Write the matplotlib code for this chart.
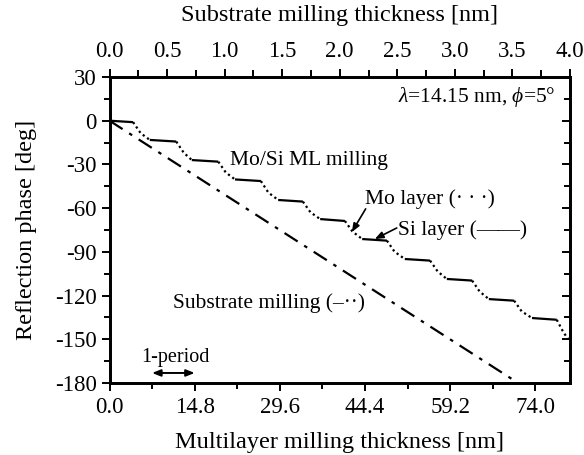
import matplotlib
matplotlib.use("Agg")
import matplotlib.pyplot as plt
from matplotlib.ticker import MultipleLocator, FixedLocator, FormatStrFormatter

plt.rcParams["font.family"] = ["Liberation Serif", "DejaVu Serif"]
plt.rcParams["mathtext.fontset"] = "custom"
plt.rcParams["mathtext.rm"] = "Liberation Serif"
plt.rcParams["mathtext.it"] = "Liberation Serif:italic"
plt.rcParams["axes.unicode_minus"] = False

# Mo/Si multilayer milling: Si layers (flat, solid) and Mo layers (drops, dotted)
si_start_nm = [0.0, 7.0, 14.3, 21.8, 29.3, 36.6, 43.9, 51.3, 58.6, 65.9, 73.4, 79.6]
si_end_nm = [4.1, 11.6, 18.9, 26.3, 33.6, 40.9, 48.2, 55.7, 63.0, 70.3, 77.7, 80.0]
si_start_deg = [0.0, -13.2, -27.0, -40.3, -54.4, -67.5, -81.2, -94.9, -108.6, -122.4, -135.4, -149.6]
si_end_deg = [-1.0, -14.3, -28.1, -41.4, -55.5, -68.8, -82.3, -96.0, -109.7, -123.5, -136.6, -149.9]
# a point inside each Mo layer, where the phase drop is steepest
mo_mid_nm = [5.4, 12.9, 20.2, 27.6, 34.9, 42.2, 49.5, 57.0, 64.3, 71.6, 78.7]
mo_mid_deg = [-8.5, -22.0, -35.5, -49.3, -62.8, -76.0, -89.8, -103.4, -117.2, -130.8, -144.0]

# Substrate milling (top axis units)
sub_nm = [0.0, 3.55]
sub_deg = [0.0, -180.0]

fig = plt.figure(figsize=(5.84, 4.55), dpi=100)
ax = fig.add_axes([0.1875, 0.1582, 0.7885, 0.6726])
ax.set_xlim(0, 80)
ax.set_ylim(-180, 30)

lw = 1.6
for k in range(len(si_start_nm)):
    ax.plot([si_start_nm[k], si_end_nm[k]], [si_start_deg[k], si_end_deg[k]],
            color="black", lw=lw, solid_capstyle="butt")
for k in range(len(mo_mid_nm)):
    ax.plot([si_end_nm[k], mo_mid_nm[k], si_start_nm[k + 1]],
            [si_end_deg[k], mo_mid_deg[k], si_start_deg[k + 1]],
            color="black", lw=lw, linestyle=(0, (1, 1.4)))

ax2 = ax.twiny()
ax2.set_xlim(0, 4.0)
ax2.plot(sub_nm, sub_deg, color="black", lw=lw, linestyle=(0, (7, 3.5, 1.6, 3.5)))
ax2.set_ylim(-180, 30)

fs = 16.5
ax.set_xticks([0.0, 14.8, 29.6, 44.4, 59.2, 74.0])
ax.set_xticklabels(["0.0", "14.8", "29.6", "44.4", "59.2", "74.0"])
ax.xaxis.set_minor_locator(FixedLocator([7.4, 22.2, 37.0, 51.8, 66.6]))
ax.yaxis.set_major_locator(MultipleLocator(30))
ax.yaxis.set_minor_locator(MultipleLocator(15))
ax.tick_params(axis="x", which="both", direction="out", bottom=True, top=False, labelsize=fs, pad=4)
ax.tick_params(axis="y", which="both", direction="out", left=True, right=False, labelsize=fs, pad=3)
ax.tick_params(which="major", length=6, width=1.4)
ax.tick_params(which="minor", length=4, width=1.4)

ax2.xaxis.set_major_locator(MultipleLocator(0.5))
ax2.xaxis.set_minor_locator(MultipleLocator(0.25))
ax2.tick_params(axis="x", which="both", direction="out", labelsize=fs, pad=5)
ax2.tick_params(which="major", length=6, width=1.4)
ax2.tick_params(which="minor", length=5, width=1.4)
ax2.xaxis.set_major_formatter(FormatStrFormatter("%.1f"))

# right axis ticks point inward
ax3 = ax.twinx()
ax3.set_ylim(-180, 30)
ax3.yaxis.set_major_locator(MultipleLocator(30))
ax3.yaxis.set_minor_locator(MultipleLocator(15))
ax3.tick_params(axis="y", which="both", direction="in", labelright=False)
ax3.tick_params(which="major", length=6, width=1.4)
ax3.tick_params(which="minor", length=4, width=1.4)

for a in (ax, ax2, ax3):
    for s in a.spines.values():
        s.set_linewidth(1.8)

ax.set_xlabel("Multilayer milling thickness [nm]", fontsize=17.5, labelpad=10)
ax.set_ylabel("Reflection phase [deg]", fontsize=17.5, labelpad=13)
ax2.set_xlabel("Substrate milling thickness [nm]", fontsize=17.5, labelpad=14)

tfs = 15.5
ax.text(77.4, 16.3, r"$\lambda$=14.15 nm, $\phi$=5°", fontsize=tfs, ha="right", va="center")
ax.text(20.9, -27.0, "Mo/Si ML milling", fontsize=tfs, ha="left", va="center")
ax.text(44.4, -53.7, "Mo layer (· · ·)", fontsize=tfs, ha="left", va="center")
ax.text(50.1, -75.0, "Si layer (——)", fontsize=tfs, ha="left", va="center")
ax.text(11.0, -125.1, "Substrate milling (–··)", fontsize=tfs, ha="left", va="center")
ax.text(11.5, -162.5, "1-period", fontsize=tfs - 1, ha="center", va="center")

arrow = dict(arrowstyle="-|>,head_length=0.5,head_width=0.2", color="black", lw=1.2, shrinkA=0, shrinkB=0)
ax.annotate("", xy=(42.1, -76.4), xytext=(44.5, -60.5), arrowprops=arrow)
ax.annotate("", xy=(46.1, -81.2), xytext=(49.9, -73.6), arrowprops=arrow)
ax.annotate("", xy=(7.4, -173.1), xytext=(14.8, -173.1),
            arrowprops=dict(arrowstyle="<|-|>,head_length=0.5,head_width=0.2", color="black",
                            lw=1.4, shrinkA=0, shrinkB=0))

fig.savefig("out.png", dpi=100)
